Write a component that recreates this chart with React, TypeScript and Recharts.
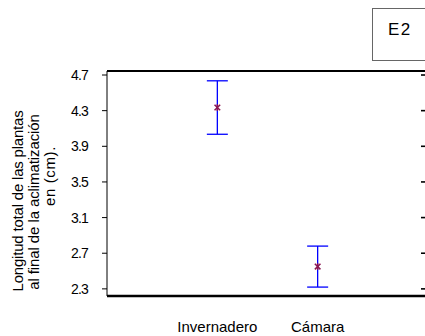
import {
  ComposedChart,
  ErrorBar,
  Scatter,
  XAxis,
  YAxis,
} from "recharts";

const groups = ["Invernadero", "Cámara"];
const positions = [1, 2];
const means = [4.335, 2.55];
const errors = [0.3, 0.23];
const yTicks = [2.3, 2.7, 3.1, 3.5, 3.9, 4.3, 4.7];
const yLabelLines = [
  "Longitud total de las plantas",
  "al final de la aclimatización",
  "en (cm).",
];

const data = groups.map((g, i) => ({
  name: g,
  x: positions[i],
  y: means[i],
  err: errors[i],
}));

const font = "'Liberation Sans', Arial, sans-serif";
const yDomain = [2.22, 4.745];
const xDomain = [-0.1, 3.11];

// little purple asterisk used by the original for the means
const Star = (props: any) => {
  const { cx, cy } = props;
  const c = "#8a1752";
  const r = 2.8;
  return (
    <g stroke={c} strokeWidth={1.5}>
      <line x1={cx - r} y1={cy - r} x2={cx + r} y2={cy + r} />
      <line x1={cx - r} y1={cy + r} x2={cx + r} y2={cy - r} />
      <line x1={cx} y1={cy - r - 0.5} x2={cx} y2={cy + r + 0.5} />
    </g>
  );
};

const YTitle = () => (
  <g fontFamily={font} fontSize={15} fill="#000">
    <text transform="translate(23,201) rotate(-90)" textAnchor="middle" letterSpacing={-0.2}>
      {yLabelLines[0]}
    </text>
    <text transform="translate(39,202) rotate(-90)" textAnchor="middle" letterSpacing={-0.1}>
      {yLabelLines[1]}
    </text>
    <text transform="translate(55,176) rotate(-90)" textAnchor="middle" letterSpacing={0.6}>
      {yLabelLines[2]}
    </text>
  </g>
);

export default function App() {
  return (
    <div
      style={{
        position: "absolute",
        left: 0,
        top: 0,
        width: 425,
        height: 336,
        overflow: "hidden",
        background: "#fff",
      }}
    >
      <ComposedChart
        width={440}
        height={336}
        data={data}
        margin={{ top: 70, right: 11, bottom: 10, left: 57 }}
      >
        <XAxis
          dataKey="x"
          type="number"
          domain={xDomain}
          ticks={positions}
          tickFormatter={(v: number) => groups[positions.indexOf(v)] ?? ""}
          tickLine={false}
          tickSize={0}
          tickMargin={25}
          height={30}
          axisLine={{ stroke: "#000", strokeWidth: 2.5 }}
          tick={{ fill: "#000", fontSize: 15, fontFamily: font }}
        />
        <XAxis
          xAxisId="top"
          orientation="top"
          dataKey="x"
          type="number"
          domain={xDomain}
          height={1}
          ticks={positions}
          tick={false}
          tickLine={false}
          axisLine={{ stroke: "#000", strokeWidth: 2 }}
        />
        <YAxis
          yAxisId="left"
          type="number"
          domain={yDomain}
          ticks={yTicks}
          tickFormatter={(v: number) => v.toFixed(1)}
          width={50}
          tickSize={5}
          tickMargin={14}
          axisLine={{ stroke: "#000", strokeWidth: 1 }}
          tickLine={{ stroke: "#000" }}
          tick={{ fill: "#000", fontSize: 14, fontFamily: font, letterSpacing: -0.8 }}
          label={{ content: () => <YTitle /> }}
        />
        <YAxis
          yAxisId="right"
          orientation="right"
          mirror
          dataKey="y"
          type="number"
          domain={yDomain}
          ticks={yTicks}
          width={1}
          tickSize={8}
          tickFormatter={() => ""}
          axisLine={{ stroke: "#000" }}
          tickLine={{ stroke: "#000", strokeWidth: 1.6 }}
        />
        {/* invisible twin so the frame axes (top/right) get drawn */}
        <Scatter
          xAxisId="top"
          yAxisId="right"
          dataKey="y"
          shape={() => <g />}
          legendType="none"
          isAnimationActive={false}
        />
        <Scatter
          yAxisId="left"
          dataKey="y"
          shape={Star}
          isAnimationActive={false}
        >
          <ErrorBar
            dataKey="err"
            direction="y"
            width={10.5}
            stroke="#0000ff"
            strokeWidth={1.3}
            isAnimationActive={false}
          />
        </Scatter>
      </ComposedChart>
      <div
        style={{
          position: "absolute",
          left: 372,
          top: 8,
          width: 70,
          height: 53,
          border: "1px solid #666",
          boxSizing: "border-box",
          fontFamily: font,
          fontSize: 17,
          letterSpacing: 1.5,
          paddingLeft: 15,
          paddingTop: 11,
          color: "#000",
        }}
      >
        E2
      </div>
    </div>
  );
}
